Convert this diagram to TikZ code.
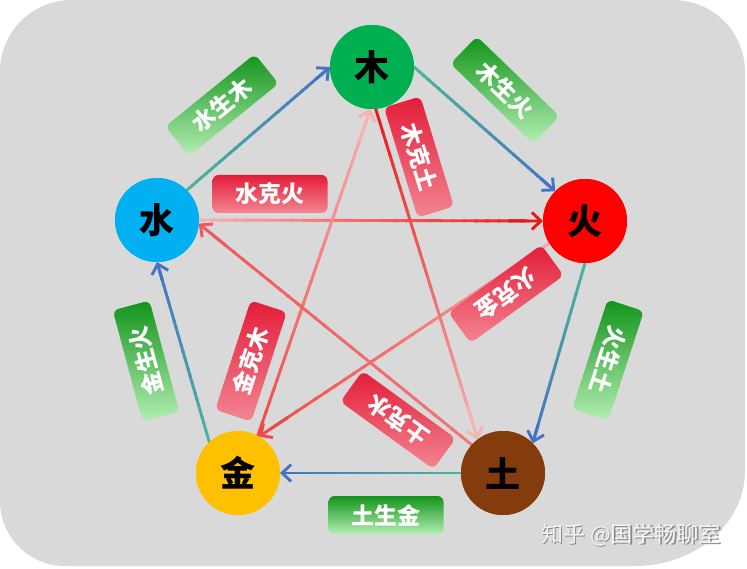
\documentclass[tikz,border=0pt]{standalone}
\usepackage{fontspec}
\newfontfamily\cjk{Noto Sans CJK SC}
\usetikzlibrary{arrows.meta,calc}
\definecolor{bg}{HTML}{D9D9D9}
\definecolor{cmu}{HTML}{00B050}
\definecolor{chuo}{HTML}{FF0000}
\definecolor{cshui}{HTML}{00B0F0}
\definecolor{cjin}{HTML}{FFC000}
\definecolor{ctu}{HTML}{843C0C}
\definecolor{steal}{HTML}{4BB69A}
\definecolor{sblue}{HTML}{4472C4}
\definecolor{kred}{HTML}{E81818}
\definecolor{kred2}{HTML}{F04848}
\definecolor{kpink}{HTML}{F7B2B2}
\definecolor{kpink2}{HTML}{F8A6A6}
\definecolor{ksal}{HTML}{F07878}
\definecolor{ksal2}{HTML}{EE5A5A}
\definecolor{gtop}{HTML}{12941A}
\definecolor{gmid}{HTML}{28A82A}
\definecolor{gbot}{HTML}{B2EEB2}
\definecolor{rtop}{HTML}{E31D38}
\definecolor{rmid}{HTML}{E8384C}
\definecolor{rbot}{HTML}{F38592}
\definecolor{wmark}{HTML}{F4F4F4}
\definecolor{wshadow}{HTML}{8A8A8A}
\tikzset{
  conn/.style={line width=2.9pt, line cap=butt},
  circ/.style={circle, minimum size=84pt, inner sep=0pt, outer sep=0pt,
    font=\cjk\bfseries\fontsize{35}{35}\selectfont, text=black},
  lab/.style={rounded corners=6pt, minimum width=115pt, minimum height=38pt,
    inner sep=0pt, text=white, font=\cjk\bfseries\fontsize{23}{23}\selectfont},
  glab/.style={lab, top color=gtop, middle color=gmid, bottom color=gbot},
  rlab/.style={lab, top color=rtop, middle color=rmid, bottom color=rbot},
}
\newcommand\gline[4]{%
  \path (#1) -- (#2) coordinate[pos=0] (gs) coordinate[pos=1] (ge);
  \foreach \i in {0,...,28}{%
    \pgfmathsetmacro\pa{\i/30}%
    \pgfmathsetmacro\pb{min(0.96,(\i+1.3)/30)}%
    \pgfmathtruncatemacro\mx{round(100*(\i+0.5)/30)}%
    \draw[conn, draw=#4!\mx!#3] ($(gs)!\pa!(ge)$) -- ($(gs)!\pb!(ge)$);
  }%
  \draw[conn, draw=#4, -{Straight Barb[length=9pt,width=17pt]}] ($(gs)!0.9!(ge)$) -- (ge);
}
\begin{document}
\begin{tikzpicture}[x=1pt,y=-1pt]
\path[use as bounding box] (0,0) rectangle (747,569);
% background
\fill[bg] (0,72) .. controls (0,32) and (32,0) .. (72,0) -- (673,0)
  .. controls (713,0) and (745,32) .. (745,72) -- (745,471)
  .. controls (745,523) and (696,566) .. (635,566) -- (65,566)
  .. controls (29,566) and (0,537) .. (0,501) -- cycle;
% element nodes
\node[circ, fill=cmu]   (mu)   at (372,67)  {木};
\node[circ, fill=chuo]  (huo)  at (585,221) {火};
\node[circ, fill=cshui] (shui) at (157,220) {水};
\node[circ, fill=cjin]  (jin)  at (238,473) {金};
\node[circ, fill=ctu]   (tu)   at (503,473) {土};
% overcoming (ke) lines
\gline{shui.0}{huo.180}{kpink}{kred}
\gline{huo.212}{jin.60}{kpink2}{kred2}
\gline{jin.62}{mu.268}{kred2}{kpink}
\gline{mu.275}{tu.127}{kred}{kpink}
\gline{tu.138}{shui.-5}{ksal}{ksal2}
% generating (sheng) lines
\gline{shui.45}{mu.180}{steal}{sblue}
\gline{mu.0}{huo.135}{steal}{sblue}
\gline{huo.270}{tu.45}{steal}{sblue}
\gline{tu.180}{jin.0}{steal}{sblue}
\gline{jin.133}{shui.270}{steal}{sblue}
% redraw circles above line ends
\node[circ, fill=cmu]   at (mu)   {木};
\node[circ, fill=chuo]  at (huo)  {火};
\node[circ, fill=cshui] at (shui) {水};
\node[circ, fill=cjin]  at (jin)  {金};
\node[circ, fill=ctu]   at (tu)   {土};
% labels
\node[glab, rotate=39]   (l1) at (222,105) {水生木};
\node[glab, rotate=-44]  (l2) at (505,90)  {木生火};
\node[glab, rotate=-108] (l3) at (608,360) {火生土};
\node[glab]              (l4) at (386,515) {土生金};
\node[glab, rotate=105]  (l5) at (146,361) {金生火};
\node[rlab]              (k1) at (270,194) {水克火};
\node[rlab, rotate=-73]  (k2) at (419,157) {木克土};
\node[rlab, rotate=-144] (k3) at (506,294) {火克金};
\node[rlab, rotate=72]   (k4) at (251,361) {金克木};
\node[rlab, rotate=144]  (k5) at (398,420) {土克水};
% watermark
\node[anchor=west, inner sep=0pt, text=wshadow, font=\cjk\fontsize{22}{22}\selectfont] (wms) at (542.2,536.2) {知乎 @国学畅聊室};
\node[anchor=west, inner sep=0pt, text=wmark, font=\cjk\fontsize{22}{22}\selectfont] (wm) at (541,535) {知乎 @国学畅聊室};
\end{tikzpicture}
\end{document}
